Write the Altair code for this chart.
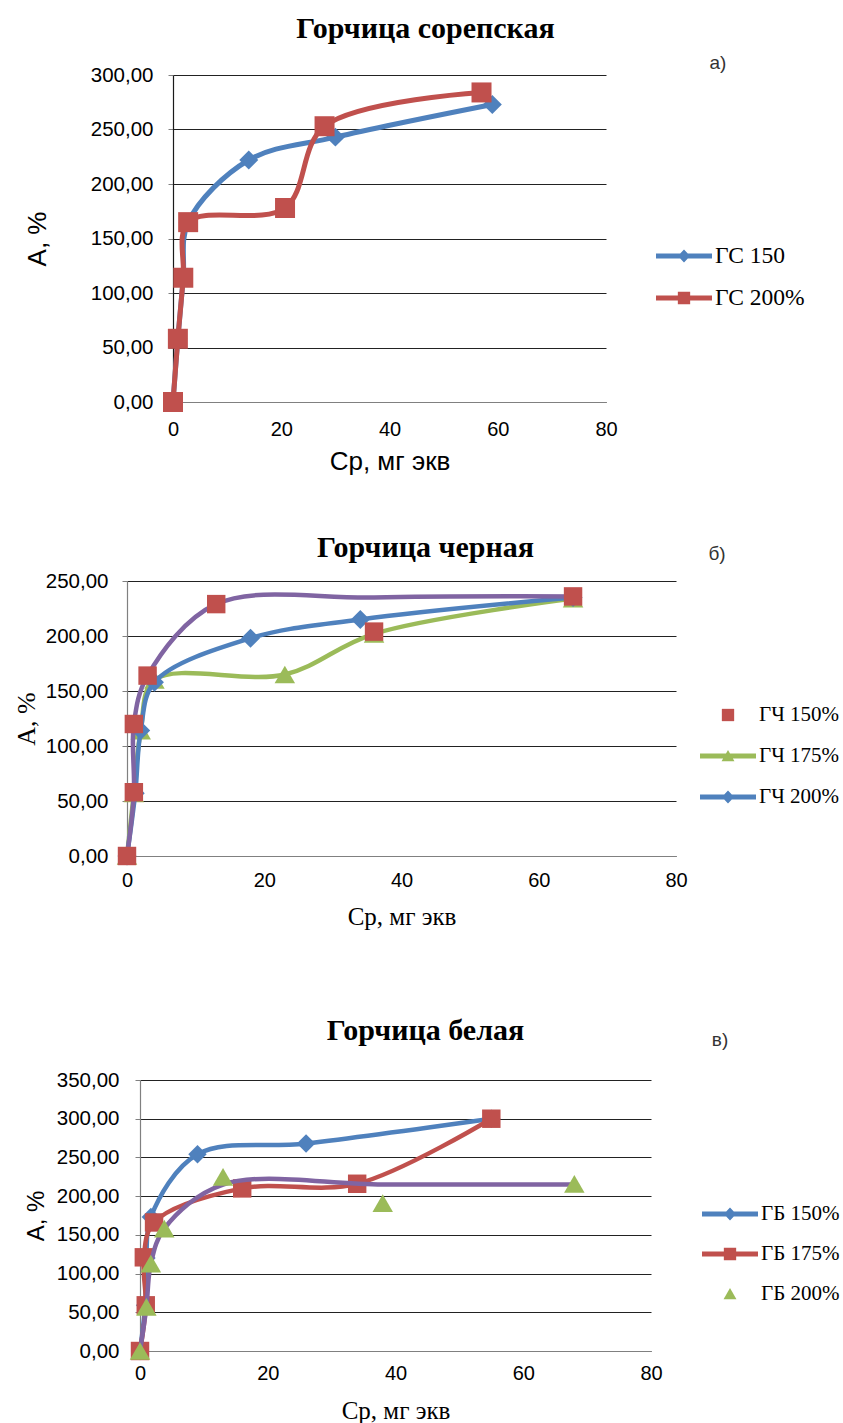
import altair as alt
import pandas as pd

# ---------------- data ----------------
X_TICKS = [0, 20, 40, 60, 80]
X_TITLE = "Ср, мг экв"
Y_TITLE = "А, %"

A_TITLE = "Горчица сорепская"
A_LETTER = ["а)"]
A_Y_TICKS = [0, 50, 100, 150, 200, 250, 300]
A_LEGEND = ["ГС 150", "ГС 200%"]
A_GS150_X = [0, 0.9, 1.9, 2.8, 14, 30, 59]
A_GS150_Y = [0, 58, 114, 165, 222, 243, 273]
A_GS200_X = [0, 0.9, 1.9, 2.8, 20.7, 28, 57]
A_GS200_Y = [0, 58, 114, 165, 178, 253, 284]

B_TITLE = "Горчица черная"
B_LETTER = ["б)"]
B_Y_TICKS = [0, 50, 100, 150, 200, 250]
B_LEGEND = ["ГЧ 150%", "ГЧ 175%", "ГЧ 200%"]
B_GCH150_X = [0, 1, 1, 3, 13, 36, 65]
B_GCH150_Y = [0, 58, 120, 164, 229, 204, 236]
B_GCH175_X = [0, 1, 2, 4, 23, 36, 65]
B_GCH175_Y = [0, 57, 114, 160, 165, 202, 234]
B_GCH200_X = [0, 1.2, 2, 4, 18, 34, 65]
B_GCH200_Y = [0, 57, 114, 158, 198, 215, 235]
B_EXTRA_X = [0, 1, 1, 3, 13, 36, 65]
B_EXTRA_Y = [0, 57, 120, 164, 229, 235, 236]

C_TITLE = "Горчица белая"
C_LETTER = ["в)"]
C_Y_TICKS = [0, 50, 100, 150, 200, 250, 300, 350]
C_LEGEND = ["ГБ 150%", "ГБ 175%", "ГБ 200%"]
C_GB150_X = [0, 0.8, 1, 1.7, 9, 26, 55]
C_GB150_Y = [0, 59, 120, 173, 254, 268, 300]
C_GB175_X = [0, 0.9, 0.6, 2.2, 16, 34, 55]
C_GB175_Y = [0, 59, 121, 166, 210, 216, 300]
C_GB200_X = [0, 1, 1.7, 3.8, 13, 38, 68]
C_GB200_Y = [0, 57, 113, 158, 225, 191, 216]
C_EXTRA_X = [0, 1, 1.7, 3.8, 13, 38, 68]
C_EXTRA_Y = [0, 57, 113, 158, 215, 215, 215]

# ---------------- styles ----------------
BLUE = "#4f81bd"
RED = "#c0504d"
GREEN = "#9bbb59"
PURPLE = "#8064a2"
SERIF = "Liberation Serif"
SANS = "Liberation Sans"
GRID = "#222222"
DOMAIN = "#808080"

P_LINE = "M-1,-0.09H1V0.09H-1Z"
P_DIAM = "M0,-0.23L0.22,0L0,0.23L-0.22,0Z"
P_SQR = "M-0.22,-0.22H0.22V0.22H-0.22Z"
P_TRI = "M0,-0.21L0.23,0.19H-0.23Z"

W = 549


def build(p):
    xs = alt.Scale(domain=[0, 80], range=p["xrange"], nice=False, zero=False)
    ys = alt.Scale(domain=[0, p["ymax"]], nice=False)
    xaxis = alt.Axis(values=X_TICKS, title=X_TITLE, titleFont=p["xtf"],
                     titleFontSize=p["xts"], titleFontWeight="normal",
                     titleColor="black", titleBaseline="middle", titleY=p["xty"],
                     labelFont=SANS, labelFontSize=20, labelColor="black",
                     labelPadding=p["xlp"], labelFlush=False, ticks=False,
                     domainColor=DOMAIN, domainWidth=1.2, grid=False,
                     labelOverlap=False)
    yaxis = alt.Axis(values=p["yticks"],
                     labelExpr="replace(format(datum.value, '.2f'), '.', ',')",
                     title=Y_TITLE, titleFont=p["ytf"], titleFontSize=p["yts"],
                     titleFontWeight="normal", titleColor="black",
                     titleBaseline="middle", titleX=p["ytx"],
                     labelFont=SANS, labelFontSize=20.5, labelColor="black",
                     labelPadding=p["ylp"], tickSize=5, tickColor=DOMAIN,
                     domainColor=p["ydc"], domainWidth=1.2, grid=True,
                     gridColor=GRID, gridWidth=1, offset=p["yoff"],
                     labelOverlap=False)
    layers = []
    for s in p["series"]:
        df = pd.DataFrame({"x": s["x"], "y": s["y"], "i": list(range(len(s["x"])))})
        enc = dict(x=alt.X("x:Q", scale=xs, axis=xaxis),
                   y=alt.Y("y:Q", scale=ys, axis=yaxis))
        if s["line"]:
            layers.append(alt.Chart(df).mark_line(
                interpolate="catmull-rom", color=s["color"],
                strokeWidth=p["lw"]).encode(order="i:Q", **enc))
        if s["shape"]:
            layers.append(alt.Chart(df).mark_point(
                filled=True, opacity=1, shape=s["shape"], size=s["size"],
                color=s["color"], strokeWidth=0).encode(**enc))
    leg = alt.Legend(title=None, orient="none", legendX=p["lgx"], legendY=p["lgy"],
                     padding=0, symbolSize=3136, symbolStrokeWidth=0,
                     symbolOpacity=1, labelFont=SERIF, labelFontSize=p["lfs"],
                     labelColor="black", labelOffset=3, rowPadding=p["lrp"],
                     labelLimit=0)
    leg_df = pd.DataFrame({"series": p["legend"]})
    layers.append(alt.Chart(leg_df).mark_point(filled=True, opacity=0).encode(
        color=alt.Color("series:N", scale=alt.Scale(domain=p["legend"], range=p["lcolors"]), legend=leg),
        shape=alt.Shape("series:N", scale=alt.Scale(domain=p["legend"], range=p["lpaths"]), legend=leg)))
    layers.append(alt.Chart(pd.DataFrame({"t": p["letter"]})).mark_text(
        font=SANS, fontSize=19, color="#333333", align="center", baseline="middle"
    ).encode(text="t:N", x=alt.value(p["ltx"]), y=alt.value(p["lty"])))
    return alt.layer(*layers).properties(
        width=W, height=p["h"],
        title=alt.TitleParams(text=p["title"], font=SERIF, fontSize=30,
                              fontWeight="bold", color="black", anchor="middle",
                              frame="group", dx=24, offset=p["toff"]))


A = build(dict(
    title=A_TITLE, letter=A_LETTER, ymax=300, yticks=A_Y_TICKS, h=327,
    xrange=[46, 479], yoff=-46, lw=5,
    xtf=SANS, xts=26, xty=59, xlp=17,
    ytf=SANS, yts=26, ytx=-136, ylp=15, ydc="#1a1a1a",
    toff=10, ltx=591, lty=-12,
    legend=A_LEGEND, lcolors=[BLUE, RED], lpaths=[P_LINE + P_DIAM, P_LINE + P_SQR],
    lgx=529, lgy=153, lrp=2, lfs=23.5,
    series=[
        dict(x=A_GS150_X, y=A_GS150_Y, color=BLUE, line=True, shape="diamond", size=360),
        dict(x=A_GS200_X, y=A_GS200_Y, color=RED, line=True, shape="square", size=400),
    ]))

B = build(dict(
    title=B_TITLE, letter=B_LETTER, ymax=250, yticks=B_Y_TICKS, h=275,
    xrange=[0, 549], yoff=0, lw=4.5,
    xtf=SERIF, xts=25, xty=60, xlp=14,
    ytf=SERIF, yts=26, ytx=-101, ylp=14, ydc=DOMAIN,
    toff=-18, ltx=590, lty=-27,
    legend=B_LEGEND, lcolors=[RED, GREEN, BLUE],
    lpaths=[P_SQR, P_LINE + P_TRI, P_LINE + P_DIAM],
    lgx=573, lgy=106, lrp=3, lfs=21,
    series=[
        dict(x=B_GCH175_X, y=B_GCH175_Y, color=GREEN, line=True, shape="triangle-up", size=420),
        dict(x=B_GCH200_X, y=B_GCH200_Y, color=BLUE, line=True, shape="diamond", size=360),
        dict(x=B_EXTRA_X, y=B_EXTRA_Y, color=PURPLE, line=True, shape=None, size=0),
        dict(x=B_GCH150_X, y=B_GCH150_Y, color=RED, line=False, shape="square", size=340),
    ]))

C = build(dict(
    title=C_TITLE, letter=C_LETTER, ymax=350, yticks=C_Y_TICKS, h=271,
    xrange=[13, 524], yoff=-13, lw=4.5,
    xtf=SERIF, xts=25, xty=59, xlp=12,
    ytf=SANS, yts=24, ytx=-104, ylp=16, ydc=DOMAIN,
    toff=-15, ltx=593, lty=-40,
    legend=C_LEGEND, lcolors=[BLUE, RED, GREEN],
    lpaths=[P_LINE + P_DIAM, P_LINE + P_SQR, P_TRI],
    lgx=575, lgy=106, lrp=2, lfs=21,
    series=[
        dict(x=C_GB150_X, y=C_GB150_Y, color=BLUE, line=True, shape="diamond", size=340),
        dict(x=C_GB175_X, y=C_GB175_Y, color=RED, line=True, shape="square", size=340),
        dict(x=C_EXTRA_X, y=C_EXTRA_Y, color=PURPLE, line=True, shape=None, size=0),
        dict(x=C_GB200_X, y=C_GB200_Y, color=GREEN, line=False, shape="triangle-up", size=420),
    ]))


def spacer(h):
    return alt.Chart(pd.DataFrame({"v": [0]})).mark_point(opacity=0).properties(width=1, height=h)


chart = alt.vconcat(A, spacer(59), B, spacer(87), C, spacing=0).resolve_scale(
    color="independent", shape="independent"
).properties(
    padding={"left": 12, "top": 14, "right": 0, "bottom": 0},
    background="white"
).configure_view(strokeWidth=0, stroke=None)

chart.save("out.html", embed_options={"renderer": "svg", "actions": False})
